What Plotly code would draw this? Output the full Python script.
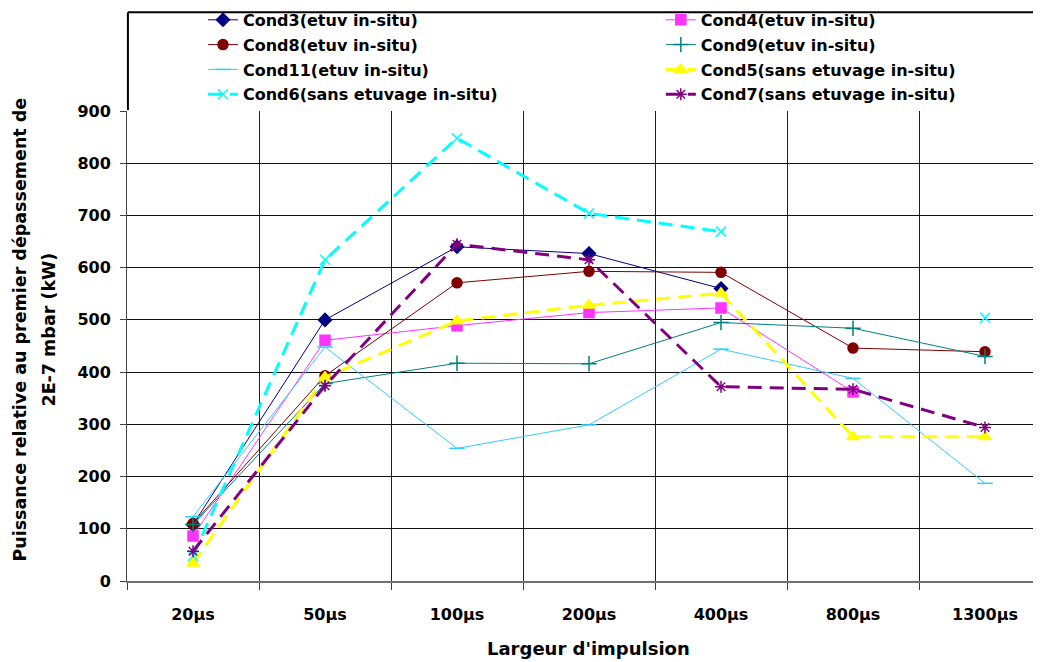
import plotly.graph_objects as go

# Pulse widths (x categories)
pulse_widths = ["20µs", "50µs", "100µs", "200µs", "400µs", "800µs", "1300µs"]

# Relative power at first 2E-7 mbar overshoot (kW)
cond3 = [108, 500, 640, 627, 560, None, None]
cond4 = [86, 461, 489, 514, 523, 362, None]
cond8 = [110, 393, 571, 593, 591, 446, 439]
cond9 = [108, 378, 417, 416, 495, 484, 430]
cond11 = [123, 448, 254, 299, 444, 388, 187]
cond5 = [34, 390, 498, 528, 551, 276, 276]
cond6 = [48, 615, 848, 704, 669, None, 504]
cond7 = [57, 374, 645, 615, 372, 367, 294]

# (name, values, legend column) - the legend reads left to right, row by row
series = [
    ("Cond3(etuv in-situ)", cond3, "legend"),
    ("Cond4(etuv in-situ)", cond4, "legend2"),
    ("Cond8(etuv in-situ)", cond8, "legend"),
    ("Cond9(etuv in-situ)", cond9, "legend2"),
    ("Cond11(etuv in-situ)", cond11, "legend"),
    ("Cond5(sans etuvage in-situ)", cond5, "legend2"),
    ("Cond6(sans etuvage in-situ)", cond6, "legend"),
    ("Cond7(sans etuvage in-situ)", cond7, "legend2"),
]

# Line / marker styling per series (Excel-like)
styles = [
    dict(color="#000080", width=1, dash="solid", symbol="diamond", size=10),
    dict(color="#FF33FF", width=1, dash="solid", symbol="square", size=10),
    dict(color="#800000", width=1, dash="solid", symbol="circle", size=10),
    dict(color="#008080", width=1, dash="solid", symbol="cross-thin", size=11),
    dict(color="#33CCFF", width=1, dash="solid", symbol="line-ew", size=11),
    dict(color="#FFFF00", width=3, dash="14px,8px", symbol="triangle-up", size=11),
    dict(color="#00FFFF", width=3, dash="14px,8px", symbol="x-thin", size=10),
    dict(color="#800080", width=3, dash="14px,8px", symbol="asterisk", size=10),
]

FONT = "DejaVu Sans"
FS = 16

# the page body adds an 8px offset, so margins are 8px smaller than on screen
ML, MT = 119, 103
PLOT_W = 1041 - ML
PLOT_H = 470

fig = go.Figure()
for i, ((name, values, leg), st) in enumerate(zip(series, styles)):
    fig.add_trace(go.Scatter(
        x=pulse_widths,
        y=values,
        name=name,
        legend=leg,
        legendgroup="g%d" % i,
        mode="lines+markers",
        line=dict(color=st["color"], width=st["width"], dash=st["dash"]),
        marker=dict(symbol=st["symbol"], size=st["size"], color=st["color"],
                    line=dict(color=st["color"], width=1.5)),
    ))

# Legend frame (Excel draws the legend in its own box above the plot area)
box_l, box_r, box_b, box_t = 0.001, 0.9848, 1.002, 1.21
frame = dict(color="black", width=2)
for x0, y0, x1, y1 in [(box_l, box_t, box_r, box_t),
                       (box_r, box_b, box_r, box_t),
                       (box_l, box_b, box_l, box_t)]:
    fig.add_shape(type="line", xref="paper", yref="paper",
                  x0=x0, y0=y0, x1=x1, y1=y1, line=frame, layer="above")

# Axis titles as annotations (two-line y title has wide line spacing)
title_font = dict(family=FONT, size=17.5, color="black", weight="bold")
fig.add_annotation(text="Puissance relative au premier dépassement de",
                   xref="paper", yref="paper", x=-0.116, y=0.535,
                   xanchor="center", yanchor="middle", textangle=-90,
                   showarrow=False, font=title_font)
fig.add_annotation(text="2E-7 mbar (kW)",
                   xref="paper", yref="paper", x=-0.0846, y=0.535,
                   xanchor="center", yanchor="middle", textangle=-90,
                   showarrow=False, font=title_font)
fig.add_annotation(text="Largeur d'impulsion",
                   xref="paper", yref="paper", x=0.5, y=-0.1426,
                   xanchor="center", yanchor="middle",
                   showarrow=False, font=dict(title_font, size=18))

legend_common = dict(
    orientation="v",
    xanchor="left",
    yanchor="top",
    y=1.23,
    bgcolor="rgba(0,0,0,0)",
    tracegroupgap=1,
    font=dict(family=FONT, size=FS, color="black", weight="bold"),
)

fig.update_layout(
    width=1041,
    height=662,
    margin=dict(l=ML, r=0, t=MT, b=662 - MT - PLOT_H, autoexpand=False),
    paper_bgcolor="white",
    plot_bgcolor="white",
    font=dict(family=FONT, size=FS, color="black", weight="bold"),
    showlegend=True,
    legend=dict(x=0.0824, **legend_common),
    legend2=dict(x=0.579, **legend_common),
    xaxis=dict(
        type="category",
        range=[-0.5, -0.5 + PLOT_W / 132],
        tickson="boundaries",
        showgrid=True, gridcolor="#202020", gridwidth=1,
        ticks="outside", ticklen=7, tickcolor="#404040",
        ticklabelstandoff=18,
        showline=True, linecolor="#707070", linewidth=2,
        tickfont=dict(family=FONT, size=FS, weight="bold"),
    ),
    yaxis=dict(
        range=[0, 900],
        dtick=100,
        showgrid=True, gridcolor="#101010", gridwidth=1,
        zeroline=False,
        ticks="outside", ticklen=6, tickcolor="#404040",
        ticklabelstandoff=6,
        showline=True, linecolor="#404040", linewidth=1,
        tickfont=dict(family=FONT, size=FS, weight="bold"),
    ),
)

fig.write_html("out.html")
